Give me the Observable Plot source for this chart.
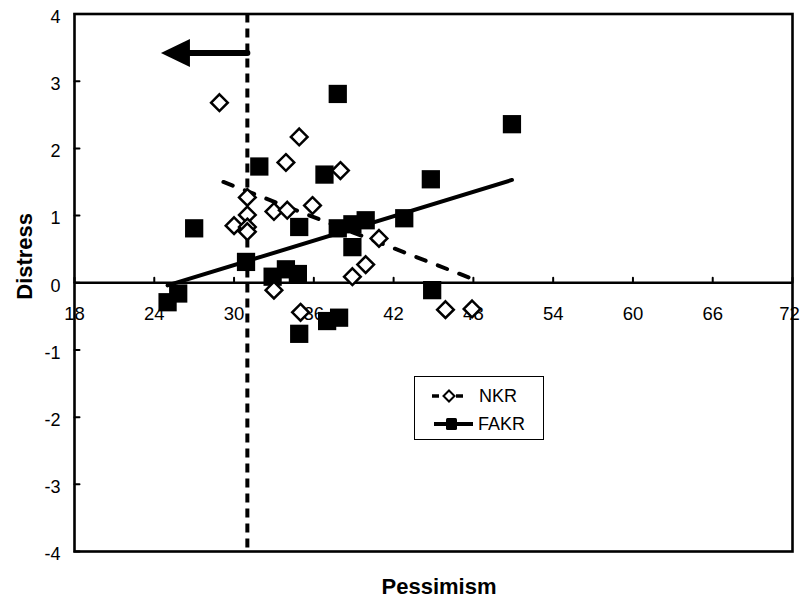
<!DOCTYPE html>
<html><head><meta charset="utf-8">
<script src="https://cdn.jsdelivr.net/npm/d3@7"></script>
<script src="https://cdn.jsdelivr.net/npm/@observablehq/plot@0.6"></script>
<style>
body{margin:0;background:#fff;}
#wrap{position:relative;width:801px;height:603px;font-family:"Liberation Sans",Arial,sans-serif;}
#legend{position:absolute;left:414px;top:376px;width:128px;height:62px;border:1.5px solid #000;background:#fff;}
#legend svg{position:absolute;left:0;top:0;}
#legend span{position:absolute;font-size:18px;line-height:20px;color:#000;}
</style></head><body>
<div id="wrap"><div id="chart"></div>
<div id="legend">
<svg width="128" height="62">
<line x1="17" y1="19" x2="24" y2="19" stroke="#000" stroke-width="3.5"/>
<line x1="41" y1="19" x2="48" y2="19" stroke="#000" stroke-width="3.5"/>
<path d="M34,13.5L39.5,19L34,24.5L28.5,19Z" fill="#fff" stroke="#000" stroke-width="2"/>
<line x1="19" y1="47" x2="58" y2="47" stroke="#000" stroke-width="4"/>
<rect x="31" y="41" width="11" height="12" rx="1.5" fill="#000"/>
</svg>
<span style="left:64px;top:9px">NKR</span>
<span style="left:63px;top:37px">FAKR</span>
</div></div>
<script>
// tick labels
const xTicks = [18, 24, 30, 36, 42, 48, 54, 60, 66, 72];
const yTicks = [-4, -3, -2, -1, 0, 1, 2, 3, 4];

// NKR (open diamonds)
const nkrX = [28.9, 34.9, 33.9, 38.0, 31.0, 33.0, 34.0, 35.9, 31.0, 30.0, 31.0, 31.0, 40.9, 39.9, 38.9, 33.0, 35.0, 45.9, 47.9];
const nkrY = [2.68, 2.17, 1.79, 1.67, 1.27, 1.06, 1.08, 1.15, 1.01, 0.85, 0.83, 0.76, 0.66, 0.27, 0.09, -0.11, -0.44, -0.40, -0.39];

// FAKR (filled squares)
const fakrX = [37.8, 50.9, 31.9, 36.8, 44.8, 27.0, 34.9, 37.8, 38.9, 39.9, 42.8, 38.9, 30.9, 32.9, 33.9, 34.8, 44.9, 25.8, 25.0, 34.9, 37.0, 37.9];
const fakrY = [2.81, 2.36, 1.73, 1.61, 1.54, 0.81, 0.83, 0.81, 0.87, 0.93, 0.96, 0.53, 0.31, 0.09, 0.20, 0.13, -0.11, -0.16, -0.29, -0.76, -0.57, -0.52];

// trend lines (endpoints)
const nkrTrendX = [29.2, 47.9];
const nkrTrendY = [1.50, 0.06];
const fakrTrendX = [25.0, 50.9];
const fakrTrendY = [-0.04, 1.53];

// cutoff line and arrow
const cutoff = [31];
const arrowX = [31, 25.5];
const arrowY = [3.42, 3.42];
const arrowTipX = [24.5];
const arrowTipY = [3.42];

const nkr = nkrX.map((x, i) => ({x, y: nkrY[i]}));
const fakr = fakrX.map((x, i) => ({x, y: fakrY[i]}));
const nkrTrend = nkrTrendX.map((x, i) => ({x, y: nkrTrendY[i]}));
const fakrTrend = fakrTrendX.map((x, i) => ({x, y: fakrTrendY[i]}));
const arrowShaft = arrowX.map((x, i) => ({x, y: arrowY[i]}));
const arrowTip = arrowTipX.map((x, i) => ({x, y: arrowTipY[i]}));

const leftTriangle = {
  draw(ctx, size) {
    ctx.moveTo(0, 0);
    ctx.lineTo(29, -14);
    ctx.lineTo(29, 14);
    ctx.closePath();
  }
};

const xTicksInner = xTicks.slice(0, -1);
const xTickLast = xTicks.slice(-1);

const plot = Plot.plot({
  width: 801, height: 603,
  marginLeft: 74, marginRight: 9, marginTop: 13.5, marginBottom: 52,
  x: {domain: [18, 72], axis: null},
  y: {domain: [-4, 4], axis: null},
  style: {fontFamily: "Liberation Sans, Arial, sans-serif", background: "white", color: "black"},
  marks: [
    Plot.ruleY([0], {stroke: "#000", strokeWidth: 2.6}),
    Plot.vector(xTicks, {x: d => d, y: 0, length: 5, rotate: 0, anchor: "start", r: 0, strokeWidth: 2, stroke: "#000"}),
    Plot.vector(yTicks, {x: xTicks[0], y: d => d, length: 5, rotate: 90, anchor: "start", r: 0, strokeWidth: 2, stroke: "#000"}),
    Plot.text(xTicksInner, {x: d => d, y: 0, dy: 31, text: d => String(d), fontSize: 18.5}),
    Plot.text(xTickLast, {x: d => d, y: 0, dy: 31, dx: -3, text: d => String(d), fontSize: 18.5}),
    Plot.text(yTicks, {frameAnchor: "left", y: d => d, dx: -14, dy: 3, textAnchor: "end", text: d => String(d), fontSize: 18}),
    Plot.ruleX(cutoff, {stroke: "#000", strokeWidth: 4, strokeDasharray: "9,6"}),
    Plot.line(arrowShaft, {x: "x", y: "y", stroke: "#000", strokeWidth: 6}),
    Plot.dot(arrowTip, {x: "x", y: "y", symbol: leftTriangle, fill: "#000", stroke: "none", r: 10}),
    Plot.line(fakrTrend, {x: "x", y: "y", stroke: "#000", strokeWidth: 4}),
    Plot.dot(fakr, {x: "x", y: "y", symbol: "square", fill: "#000", stroke: "none", r: 10.3}),
    Plot.line(nkrTrend, {x: "x", y: "y", stroke: "#000", strokeWidth: 4, strokeDasharray: "10,13"}),
    Plot.dot(nkr, {x: "x", y: "y", symbol: "diamond2", fill: "white", stroke: "#000", strokeWidth: 2.5, r: 7.5}),
    Plot.frame({stroke: "#000", strokeWidth: 2.6}),
    Plot.text(["Pessimism"], {frameAnchor: "bottom", dy: 42, dx: 5.5, text: d => d, fontWeight: "bold", fontSize: 22}),
    Plot.text(["Distress"], {frameAnchor: "left", rotate: -90, dx: -50, dy: 17, text: d => d, fontWeight: "bold", fontSize: 22})
  ]
});
document.getElementById("chart").appendChild(plot);
</script>
</body></html>
